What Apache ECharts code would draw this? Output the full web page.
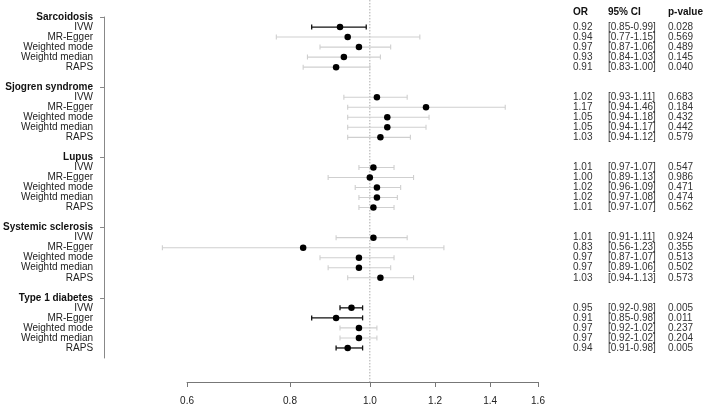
<!DOCTYPE html>
<html>
<head>
<meta charset="utf-8">
<script src="https://cdn.jsdelivr.net/npm/echarts@6/dist/echarts.min.js"></script>
<style>
  html, body { margin: 0; padding: 0; background: #fff; }
  #container { width: 704px; height: 406px; }
</style>
</head>
<body>
<div id="container"></div>
<script>
// ---- data ----
var groups = ['Sarcoidosis', 'Sjogren syndrome', 'Lupus', 'Systemic sclerosis', 'Type 1 diabetes'];
var methods = ['IVW', 'MR-Egger', 'Weighted mode', 'Weightd median', 'RAPS'];
var orValues = [
    [0.92, 0.94, 0.97, 0.93, 0.91],
    [1.02, 1.17, 1.05, 1.05, 1.03],
    [1.01, 1.00, 1.02, 1.02, 1.01],
    [1.01, 0.83, 0.97, 0.97, 1.03],
    [0.95, 0.91, 0.97, 0.97, 0.94]
];
var ciLower = [
    [0.85, 0.77, 0.87, 0.84, 0.83],
    [0.93, 0.94, 0.94, 0.94, 0.94],
    [0.97, 0.89, 0.96, 0.97, 0.97],
    [0.91, 0.56, 0.87, 0.89, 0.94],
    [0.92, 0.85, 0.92, 0.92, 0.91]
];
var ciUpper = [
    [0.99, 1.15, 1.06, 1.03, 1.00],
    [1.11, 1.46, 1.18, 1.17, 1.12],
    [1.07, 1.13, 1.09, 1.08, 1.07],
    [1.11, 1.23, 1.07, 1.06, 1.13],
    [0.98, 0.98, 1.02, 1.02, 0.98]
];
var pValues = [
    ['0.028', '0.569', '0.489', '0.145', '0.040'],
    ['0.683', '0.184', '0.432', '0.442', '0.579'],
    ['0.547', '0.986', '0.471', '0.474', '0.562'],
    ['0.924', '0.355', '0.513', '0.502', '0.573'],
    ['0.005', '0.011', '0.237', '0.204', '0.005']
];
var xTicks = [0.6, 0.8, 1.0, 1.2, 1.4, 1.6];
var tableHeader = ['OR', '95% CI', 'p-value'];

// ---- build rows (header + 5 methods + blank per group) ----
var ROWS_PER_GROUP = 7;
var rowLabels = {};
var labelRows = [];
var headerRows = [];
var bars = [];
var points = [];
var tableRows = [];

groups.forEach(function (g, gi) {
    var base = gi * ROWS_PER_GROUP;
    rowLabels[base] = '{h|' + g + '}';
    labelRows.push(base);
    headerRows.push(base);
    methods.forEach(function (m, mi) {
        var r = base + 1 + mi;
        var lo = ciLower[gi][mi], hi = ciUpper[gi][mi], or = orValues[gi][mi];
        rowLabels[r] = '{m|' + m + '}';
        labelRows.push(r);
        var sig = hi < 1 || lo > 1;
        bars.push([Math.log(lo), Math.log(hi), r, sig ? 1 : 0]);
        points.push([Math.log(or), r]);
        tableRows.push({
            row: r,
            texts: [or.toFixed(2), '[' + lo.toFixed(2) + '-' + hi.toFixed(2) + ']', pValues[gi][mi]]
        });
    });
});
tableRows.unshift({ row: -0.5, texts: tableHeader, bold: true });

var FONT = 'Liberation Sans, Arial, sans-serif';
var FS = 10;
var tableColX = [573, 608, 668];

var dom = document.getElementById('container');
var myChart = echarts.init(dom, null, { renderer: 'canvas' });

var option = {
    animation: false,
    backgroundColor: '#fff',
    grid: {
        left: 187,
        width: 351,
        top: 17,
        height: 342
    },
    xAxis: {
        type: 'value',
        position: 'bottom',
        min: Math.log(xTicks[0]),
        max: Math.log(xTicks[xTicks.length - 1]),
        offset: 24,
        splitLine: { show: false },
        axisLine: { show: true, onZero: false, lineStyle: { color: '#777', width: 1 } },
        axisTick: {
            show: true,
            length: 5,
            customValues: xTicks.map(function (v) { return Math.log(v); }),
            lineStyle: { color: '#777' }
        },
        axisLabel: {
            margin: 14,
            fontSize: FS,
            fontFamily: FONT,
            color: '#222',
            showMinLabel: true,
            showMaxLabel: true,
            customValues: xTicks.map(function (v) { return Math.log(v); }),
            formatter: function (v) { return Math.exp(v).toFixed(1); }
        }
    },
    yAxis: {
        type: 'value',
        position: 'left',
        inverse: true,
        min: 0,
        max: groups.length * ROWS_PER_GROUP - 1,
        offset: 83,
        splitLine: { show: false },
        axisLine: { show: true, onZero: false, lineStyle: { color: '#888', width: 1 } },
        axisTick: {
            show: true,
            length: 4,
            customValues: headerRows,
            lineStyle: { color: '#888' }
        },
        axisLabel: {
            margin: 11,
            showMinLabel: true,
            showMaxLabel: true,
            hideOverlap: false,
            customValues: labelRows,
            formatter: function (v) { return rowLabels[Math.round(v)] || ''; },
            rich: {
                h: { fontSize: FS, fontWeight: 'bold', color: '#111', fontFamily: FONT },
                m: { fontSize: FS, color: '#222', fontFamily: FONT }
            }
        }
    },
    series: [
        {
            // reference line at OR = 1
            type: 'line',
            clip: false,
            symbol: 'none',
            silent: true,
            lineStyle: { color: '#aaa', width: 1, type: [1.5, 1.5] },
            data: [[0, -1.7], [0, 36.4]],
            z: 1
        },
        {
            type: 'custom',
            clip: false,
            data: bars,
            z: 2,
            renderItem: function (params, api) {
                var r = api.value(2);
                var p1 = api.coord([api.value(0), r]);
                var p2 = api.coord([api.value(1), r]);
                var color = api.value(3) ? '#111' : '#cfcfcf';
                var lw = api.value(3) ? 1.3 : 1.1;
                var cap = 2.5;
                var style = { stroke: color, lineWidth: lw };
                return {
                    type: 'group',
                    children: [
                        { type: 'line', shape: { x1: p1[0], y1: p1[1], x2: p2[0], y2: p2[1] }, style: style },
                        { type: 'line', shape: { x1: p1[0], y1: p1[1] - cap, x2: p1[0], y2: p1[1] + cap }, style: style },
                        { type: 'line', shape: { x1: p2[0], y1: p2[1] - cap, x2: p2[0], y2: p2[1] + cap }, style: style }
                    ]
                };
            }
        },
        {
            type: 'scatter',
            clip: false,
            symbol: 'circle',
            symbolSize: 6.5,
            itemStyle: { color: '#000', opacity: 1 },
            data: points,
            z: 3
        },
        {
            // right-hand table: OR, 95% CI, p-value
            type: 'custom',
            clip: false,
            silent: true,
            data: tableRows.map(function (t) { return [0, t.row]; }),
            renderItem: function (params, api) {
                var t = tableRows[params.dataIndex];
                var y = api.coord([0, api.value(1)])[1];
                return {
                    type: 'group',
                    children: t.texts.map(function (txt, ci) {
                        return {
                            type: 'text',
                            x: tableColX[ci],
                            y: y,
                            style: {
                                text: txt,
                                fill: t.bold ? '#111' : '#333',
                                fontSize: FS,
                                fontWeight: t.bold ? 'bold' : 'normal',
                                fontFamily: FONT,
                                align: 'left',
                                verticalAlign: 'middle'
                            }
                        };
                    })
                };
            }
        }
    ]
};
myChart.setOption(option);
</script>
</body>
</html>
